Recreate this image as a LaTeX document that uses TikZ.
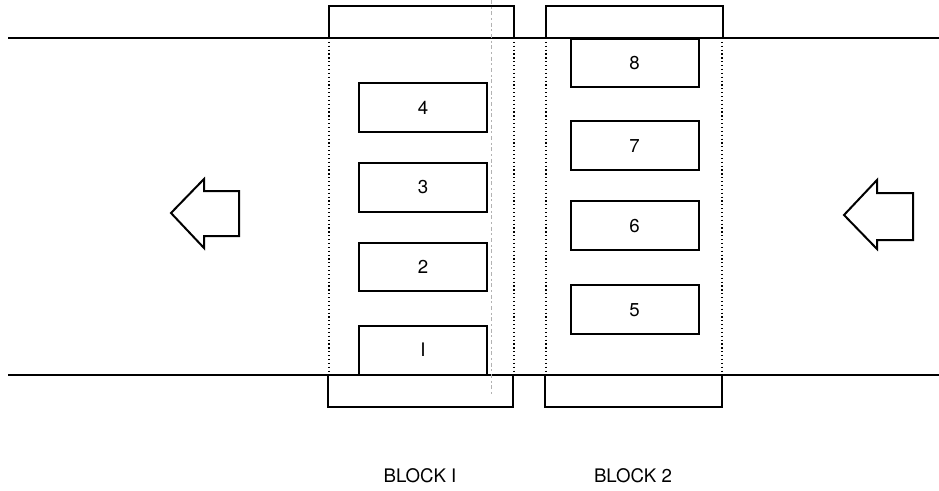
\documentclass[tikz,border=0pt]{standalone}
\usepackage{fontspec}
\setmainfont{TeX Gyre Heros}
\usetikzlibrary{positioning}

\begin{document}
\begin{tikzpicture}[x=0.75pt, y=-0.75pt, line width=1.5pt,
  every node/.style={font=\fontsize{14}{16}\selectfont},
  slot/.style={draw, line width=1.5pt, minimum width=96pt, minimum height=36.5pt, inner sep=0pt, outer sep=0pt},
  guide/.style={dotted, line width=0.9pt}]
\useasboundingbox (0,0) rectangle (939,490);

% rails
\draw (8,37.5) -- (939,37.5);
\draw (8,375) -- (939,375);

% block 1 frame
\draw (329,37.5) -- (329,6) -- (514,6) -- (514,37.5);
\draw (328,375) -- (328,407) -- (513,407) -- (513,375);
\draw[guide] (329,38) -- (329,375);
\draw[guide] (514,38) -- (514,375);
\draw[gray!60, dash dot, line width=0.6pt] (491,0) -- (491,395);

% block 2 frame
\draw (546,37.5) -- (546,6) -- (723,6) -- (723,37.5);
\draw (545,375) -- (545,407) -- (722,407) -- (722,375);
\draw[guide] (546,38) -- (546,375);
\draw[guide] (722,38) -- (722,375);

% block 1 boxes
\node[slot] (b4) at (423,107.5) {4};
\node[slot, below=23.5pt of b4] (b3) {3};
\node[slot, below=23pt of b3] (b2) {2};
\node[slot, below=26pt of b2] (b1) {I};

% block 2 boxes
\node[slot] (b8) at (634.5,63) {8};
\node[slot, below=25.5pt of b8] (b7) {7};
\node[slot, below=23.5pt of b7] (b6) {6};
\node[slot, below=26.5pt of b6] (b5) {5};

% flow arrows
\draw (171,213) -- (204,179) -- (204,191) -- (239,191) -- (239,236)
  -- (204,236) -- (204,248) -- cycle;
\draw (844,215) -- (877,180) -- (877,193) -- (913,193) -- (913,240)
  -- (877,240) -- (877,249) -- cycle;

% labels
\node (lab1) at (420,476) {BLOCK I};
\node (lab2) at (633,476) {BLOCK 2};
\end{tikzpicture}
\end{document}
